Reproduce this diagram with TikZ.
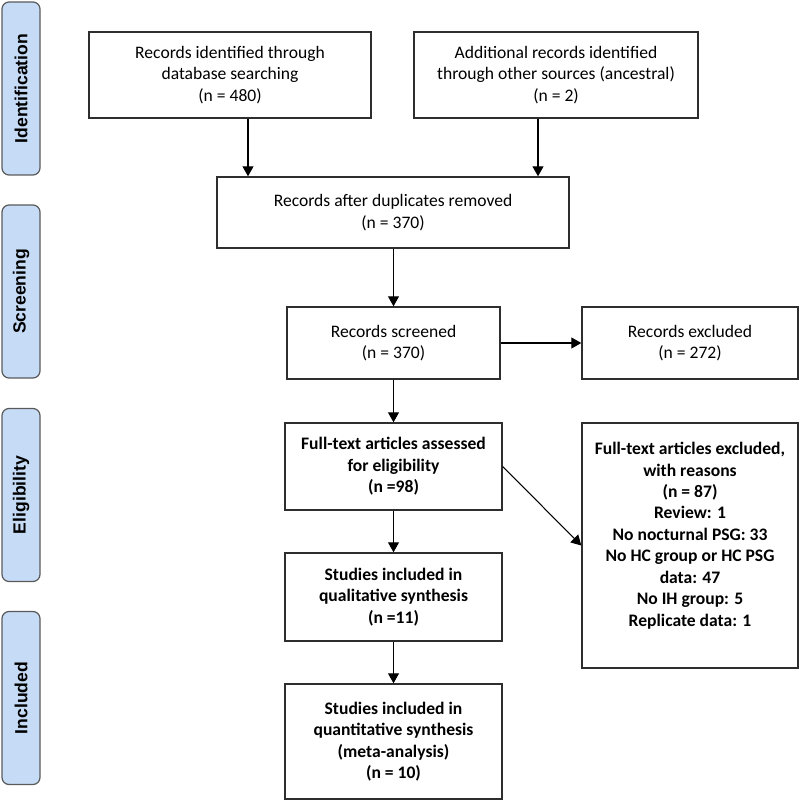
\documentclass[tikz,border=0pt]{standalone}
\usepackage{fontspec}
\setmainfont{Carlito}
\newfontfamily\tabfont{Liberation Sans}
\usetikzlibrary{arrows.meta}
\definecolor{tabblue}{HTML}{C6DCF6}
\definecolor{tabline}{HTML}{5A5A5A}
\definecolor{boxline}{HTML}{2E2E2E}

\begin{document}
\begin{tikzpicture}[
  box/.style={draw=boxline,line width=0.8pt,align=center,inner sep=2pt,
    font=\fontsize{10}{12.2}\selectfont},
  boldbox/.style={box,font=\fontsize{10}{12.2}\selectfont\bfseries},
  stage/.style={draw=tabline,fill=tabblue,line width=0.7pt,rounded corners=4pt,
    minimum width=0.76cm,minimum height=3.46cm,inner sep=0pt},
  arr/.style={-{Triangle[length=0.2cm,width=0.22cm]},line width=0.6pt}
]
\useasboundingbox (0,0) rectangle (16,-16);

% Stages
\node[stage] (s1) at (0.42,-1.77) {};
\node[stage] (s2) at (0.42,-5.83) {};
\node[stage] (s3) at (0.42,-9.9) {};
\node[stage] (s4) at (0.42,-13.96) {};
\node[rotate=90,font=\tabfont\fontsize{10}{12}\selectfont\bfseries] at (s1) {Identification};
\node[rotate=90,font=\tabfont\fontsize{10}{12}\selectfont\bfseries] at (s2) {Screening};
\node[rotate=90,font=\tabfont\fontsize{10}{12}\selectfont\bfseries] at (s3) {Eligibility};
\node[rotate=90,font=\tabfont\fontsize{10}{12}\selectfont\bfseries] at (s4) {Included};

% Boxes
\node[box,minimum width=5.64cm,minimum height=1.72cm] (db) at (4.6,-1.5)
  {Records identified through\\database searching\\(n = 480)};
\node[box,minimum width=5.68cm,minimum height=1.72cm] (other) at (11.12,-1.5)
  {Additional records identified\\through other sources (ancestral)\\(n = 2)};
\node[box,minimum width=7.04cm,minimum height=1.42cm] (dup) at (7.86,-4.25)
  {Records after duplicates removed\\(n = 370)};
\node[box,minimum width=4.26cm,minimum height=1.44cm] (screen) at (7.87,-6.86)
  {Records screened\\(n = 370)};
\node[box,minimum width=4.32cm,minimum height=1.44cm] (excl) at (13.8,-6.86)
  {Records excluded\\(n = 272)};
\node[boldbox,minimum width=4.34cm,minimum height=1.74cm] (full) at (7.87,-9.33)
  {Full-text articles assessed\\for eligibility\\(n =98)};
\node[boldbox,minimum width=4.32cm,minimum height=4.9cm] (fullex) at (13.8,-10.91)
  {Full-text articles excluded,\\with reasons\\(n = 87)\\Review: 1\\No nocturnal PSG: 33\\No HC group or HC PSG\\data: 47\\No IH group: 5\\Replicate data: 1\\[-3pt]\strut};
\node[boldbox,minimum width=4.34cm,minimum height=1.76cm] (qual) at (7.87,-11.94)
  {Studies included in\\qualitative synthesis\\(n =11)};
\node[boldbox,minimum width=4.34cm,minimum height=2.3cm] (quant) at (7.87,-14.83)
  {Studies included in\\quantitative synthesis\\(meta-analysis)\\(n = 10)};

% Arrows
\draw[arr] ([xshift=0.36cm]db.south) -- ([xshift=0.36cm]db.south |- dup.north);
\draw[arr] ([xshift=-0.36cm]other.south) -- ([xshift=-0.36cm]other.south |- dup.north);
\draw[arr] (dup.south -| screen.north) -- (screen.north);
\draw[arr] (screen.east) -- (excl.west);
\draw[arr] (screen.south) -- (full.north);
\draw[arr] (full.east) -- (fullex.west);
\draw[arr] (full.south) -- (qual.north);
\draw[arr] (qual.south) -- (quant.north);
\end{tikzpicture}
\end{document}
